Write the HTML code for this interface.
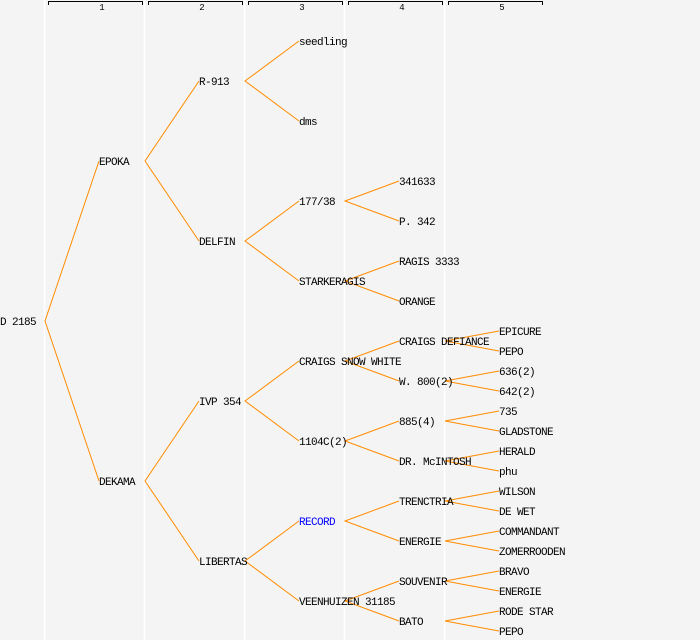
<!DOCTYPE html>
<html><head><meta charset="utf-8"><style>
html,body{margin:0;padding:0;background:#f4f4f4;}
svg{display:block}
text{font-family:"Liberation Mono",monospace;font-size:11px;letter-spacing:-0.6px;fill:#000}
text.h{font-size:9px;letter-spacing:0}
</style></head><body>
<svg width="700" height="640" xmlns="http://www.w3.org/2000/svg">
<rect width="700" height="640" fill="#f4f4f4"/>
<g stroke="#ffffff" stroke-width="1.5">
<line x1="44.5" y1="0" x2="44.5" y2="640"/>
<line x1="144.5" y1="0" x2="144.5" y2="640"/>
<line x1="244.5" y1="0" x2="244.5" y2="640"/>
<line x1="344.5" y1="0" x2="344.5" y2="640"/>
<line x1="444.5" y1="0" x2="444.5" y2="640"/>
</g>
<g stroke="#000" stroke-width="1" fill="none">
<path d="M48.5,5 V1.5 H142.5 V5"/>
<path d="M148.5,5 V1.5 H242.5 V5"/>
<path d="M248.5,5 V1.5 H342.5 V5"/>
<path d="M348.5,5 V1.5 H442.5 V5"/>
<path d="M448.5,5 V1.5 H542.5 V5"/>
</g>
<g text-anchor="middle">
<text class="h" x="102" y="10">1</text>
<text class="h" x="202" y="10">2</text>
<text class="h" x="302" y="10">3</text>
<text class="h" x="402" y="10">4</text>
<text class="h" x="502" y="10">5</text>
</g>
<g stroke="#ff8c00" stroke-width="1" fill="none">
<path d="M99,161 L45,321 L99,481"/>
<path d="M199,81 L145,161 L199,241"/>
<path d="M199,401 L145,481 L199,561"/>
<path d="M299,41 L245,81 L299,121"/>
<path d="M299,201 L245,241 L299,281"/>
<path d="M299,361 L245,401 L299,441"/>
<path d="M299,521 L245,561 L299,601"/>
<path d="M399,181 L345,201 L399,221"/>
<path d="M399,261 L345,281 L399,301"/>
<path d="M399,341 L345,361 L399,381"/>
<path d="M399,421 L345,441 L399,461"/>
<path d="M399,501 L345,521 L399,541"/>
<path d="M399,581 L345,601 L399,621"/>
<path d="M499,331 L445,341 L499,351"/>
<path d="M499,371 L445,381 L499,391"/>
<path d="M499,411 L445,421 L499,431"/>
<path d="M499,451 L445,461 L499,471"/>
<path d="M499,491 L445,501 L499,511"/>
<path d="M499,531 L445,541 L499,551"/>
<path d="M499,571 L445,581 L499,591"/>
<path d="M499,611 L445,621 L499,631"/>
</g>
<g transform="translate(0,-1)">
<text x="0" y="326">D 2185</text>
<text x="99" y="166">EPOKA</text>
<text x="99" y="486">DEKAMA</text>
<text x="199" y="86">R-913</text>
<text x="199" y="246">DELFIN</text>
<text x="199" y="406">IVP 354</text>
<text x="199" y="566">LIBERTAS</text>
<text x="299" y="46">seedling</text>
<text x="299" y="126">dms</text>
<text x="299" y="206">177/38</text>
<text x="299" y="286">STARKERAGIS</text>
<text x="299" y="366">CRAIGS SNOW WHITE</text>
<text x="299" y="446">1104C(2)</text>
<text x="299" y="526" style="fill:#0000ff">RECORD</text>
<text x="299" y="606">VEENHUIZEN 31185</text>
<text x="399" y="186">341633</text>
<text x="399" y="226">P. 342</text>
<text x="399" y="266">RAGIS 3333</text>
<text x="399" y="306">ORANGE</text>
<text x="399" y="346">CRAIGS DEFIANCE</text>
<text x="399" y="386">W. 800(2)</text>
<text x="399" y="426">885(4)</text>
<text x="399" y="466">DR. McINTOSH</text>
<text x="399" y="506">TRENCTRIA</text>
<text x="399" y="546">ENERGIE</text>
<text x="399" y="586">SOUVENIR</text>
<text x="399" y="626">BATO</text>
<text x="499" y="336">EPICURE</text>
<text x="499" y="356">PEPO</text>
<text x="499" y="376">636(2)</text>
<text x="499" y="396">642(2)</text>
<text x="499" y="416">735</text>
<text x="499" y="436">GLADSTONE</text>
<text x="499" y="456">HERALD</text>
<text x="499" y="476">phu</text>
<text x="499" y="496">WILSON</text>
<text x="499" y="516">DE WET</text>
<text x="499" y="536">COMMANDANT</text>
<text x="499" y="556">ZOMERROODEN</text>
<text x="499" y="576">BRAVO</text>
<text x="499" y="596">ENERGIE</text>
<text x="499" y="616">RODE STAR</text>
<text x="499" y="636">PEPO</text>
</g>
</svg>
</body></html>
